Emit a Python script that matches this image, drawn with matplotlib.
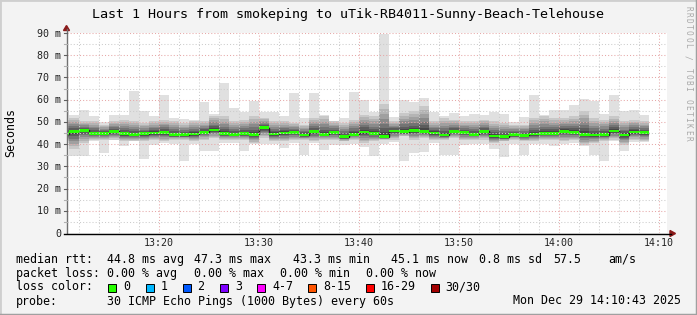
import numpy as np
import matplotlib
matplotlib.use('Agg')
import matplotlib.pyplot as plt
from matplotlib.patches import Rectangle, Polygon
from matplotlib.lines import Line2D

MONO = 'DejaVu Sans Mono'
W, H = 697, 315

# one smoke column per minute, first one starts 13:10 (cut by the left edge)
first_minute = 10          # minutes after 13:00

rtt_median = [44.6, 45.5, 46.2, 44.9, 44.9, 45.75, 44.7, 44.4, 44.6, 45.0,
              45.2, 44.25, 44.25, 44.55, 45.3, 46.35, 44.7, 44.4, 44.7, 44.4,
              47.3, 44.55, 45.0, 45.15, 44.1, 45.6, 44.4, 45.15, 43.3, 44.4,
              45.45, 44.85, 43.3, 45.9, 45.6, 46.05, 45.6, 45.0, 44.1, 45.75,
              45.15, 44.4, 45.75, 43.65, 43.35, 44.25, 43.95, 44.55, 44.85, 44.85,
              45.75, 45.15, 44.4, 44.1, 44.25, 45.9, 44.1, 45.45, 45.1]
rtt_max = [55.5, 53.3, 55.5, 52.8, 49.8, 53.3, 53.3, 64.0, 55.0, 52.8,
           62.3, 51.75, 51.45, 50.7, 59.0, 53.5, 67.5, 56.25, 54.45, 59.5,
           54.45, 54.45, 52.8, 63.0, 51.75, 63.0, 53.3, 50.25, 51.75, 63.5,
           60.0, 54.45, 89.6, 52.2, 60.0, 59.0, 60.75, 54.45, 52.8, 54.0,
           52.5, 53.7, 53.3, 54.45, 53.7, 50.0, 52.2, 62.0, 53.3, 55.5,
           55.5, 57.75, 60.45, 59.25, 53.7, 62.25, 55.0, 55.5, 53.3]
rtt_min = [40.5, 34.5, 34.5, 41.3, 35.8, 42.0, 39.0, 41.3, 33.4, 39.5,
           40.5, 40.0, 32.55, 40.0, 37.0, 36.75, 40.5, 40.5, 37.0, 40.0,
           40.0, 40.0, 38.25, 40.5, 35.25, 40.5, 37.5, 39.75, 39.75, 40.0,
           38.5, 34.5, 40.0, 41.0, 32.55, 35.85, 36.3, 40.5, 35.25, 35.25,
           39.5, 40.0, 40.0, 38.0, 34.0, 40.0, 35.25, 40.0, 40.0, 39.0,
           40.0, 40.5, 39.0, 35.0, 32.55, 41.25, 36.75, 41.0, 41.0]
# extent of the darker part of the smoke
core_hi = [51.0, 51.75, 50.25, 50.25, 48.75, 50.25, 51.0, 50.25, 49.5, 50.25,
           51.0, 50.25, 49.5, 50.25, 50.25, 52.5, 52.5, 50.25, 51.0, 52.5,
           51.75, 50.25, 50.25, 49.5, 48.75, 51.75, 52.5, 50.25, 49.5, 51.0,
           53.25, 52.5, 58.0, 50.25, 54.0, 54.75, 57.0, 50.25, 51.75, 51.0,
           50.25, 50.25, 51.0, 50.25, 49.5, 48.75, 48.75, 51.75, 52.5, 51.75,
           51.75, 52.5, 54.75, 51.75, 51.0, 52.5, 50.25, 51.0, 50.25]
core_lo = [41.25, 38.0, 40.5, 42.0, 42.0, 42.0, 41.25, 41.25, 41.25, 42.0,
           41.25, 42.0, 42.0, 41.25, 42.0, 42.75, 42.0, 42.0, 42.0, 40.5,
           42.75, 41.25, 41.25, 42.0, 42.0, 41.25, 42.0, 42.0, 41.25, 42.0,
           40.5, 41.25, 42.0, 42.0, 43.5, 42.0, 42.75, 42.0, 42.0, 42.75,
           42.0, 42.0, 42.0, 40.5, 41.25, 42.0, 41.25, 41.25, 42.0, 42.0,
           41.25, 42.0, 39.75, 40.5, 41.25, 42.0, 39.75, 42.0, 41.25]

y_ticks = [0, 10, 20, 30, 40, 50, 60, 70, 80, 90]
y_labels = ['0', '10 m', '20 m', '30 m', '40 m', '50 m', '60 m', '70 m', '80 m', '90 m']
x_ticks = [20, 30, 40, 50, 60, 70]
x_labels = ['13:20', '13:30', '13:40', '13:50', '14:00', '14:10']

legend_rtt = ['44.8 ms avg', '47.3 ms max', '43.3 ms min', '45.1 ms now', '0.8 ms sd', '57.5', 'am/s']
legend_loss = ['0.00 % avg', '0.00 % max', '0.00 % min', '0.00 % now']
loss_names = ['0', '1', '2', '3', '4-7', '8-15', '16-29', '30/30']
loss_colors = ['#26ff00', '#00b8ff', '#0059ff', '#7e00ff', '#ff00ff', '#ff5500', '#ff0000', '#a10000']


def fx(x):
    return x / W


def fy(y):
    return 1 - y / H


fig = plt.figure(figsize=(W / 100, H / 100), dpi=100, facecolor='#f3f3f3')

# outer 3d frame
fig.add_artist(Line2D([0, 0], [0, 1], lw=2, color='#cfcfcf', transform=fig.transFigure))
fig.add_artist(Line2D([0, 1], [1, 1], lw=2, color='#cfcfcf', transform=fig.transFigure))
fig.add_artist(Line2D([1, 1], [0, 1], lw=2.5, color='#a0a0a0', transform=fig.transFigure))
fig.add_artist(Line2D([0, 1], [0, 0], lw=2.5, color='#a0a0a0', transform=fig.transFigure))

ax = fig.add_axes([fx(67), fy(233), 600 / W, 200 / H])
ax.set_facecolor('white')
ax.set_xlim(10.8, 70.8)
ax.set_ylim(0, 90)
for s in ax.spines.values():
    s.set_visible(False)
ax.set_xticks([])
ax.set_yticks([])

med = np.array(rtt_median)
hi = np.array(rtt_max)
lo = np.array(rtt_min)
chi = np.array(core_hi)
clo = np.array(core_lo)
x = first_minute + np.arange(len(med))

# smoke: light outer band, then darker nested bands towards the median
ax.bar(x, hi - lo, bottom=lo, width=1, align='edge', color='#e0e0e0',
       linewidth=0, antialiased=False, zorder=1)
shades = [200, 180, 160, 138, 115, 92, 70]
fracs = [0.0, 0.15, 0.3, 0.45, 0.6, 0.74, 0.86]
for g, f in zip(shades, fracs):
    top = chi - (chi - med) * f
    bot = clo + (med - clo) * f
    c = '#%02x%02x%02x' % (g, g, g)
    ax.bar(x, top - bot, bottom=bot, width=1, align='edge', color=c,
           linewidth=0, antialiased=False, zorder=2)

# median: dark step line plus loss coloured block
edges = np.append(x, x[-1] + 1)
ax.stairs(med, edges, baseline=None, color='#202020', lw=1.0, zorder=3)
ax.bar(x, 1.25, bottom=med - 0.62, width=1, align='edge', color=loss_colors[0],
       linewidth=0, antialiased=False, zorder=4)

# grid on top of the graph
for t in range(12, 71, 2):
    major = t % 10 == 0
    ax.axvline(t, color='#e6a8a8' if major else '#cccccc', lw=0.75,
               ls=(0, (1, 2)), zorder=5)
for v in range(5, 91, 5):
    major = v % 10 == 0
    ax.axhline(v, color='#e6a8a8' if major else '#cccccc', lw=0.75,
               ls=(0, (1, 2)), zorder=5)

# axes lines and arrows
fig.add_artist(Line2D([fx(66.5), fx(66.5)], [fy(233), fy(29)], lw=1.0, color='#707070',
                      transform=fig.transFigure))
fig.add_artist(Line2D([fx(64), fx(671)], [fy(233.5), fy(233.5)], lw=1.0, color='black',
                      transform=fig.transFigure))
fig.add_artist(Polygon([[fx(63.5), fy(30.5)], [fx(69.5), fy(30.5)], [fx(66.5), fy(25.5)]],
                       closed=True, color='#8b1a1a', transform=fig.transFigure))
fig.add_artist(Polygon([[fx(670), fy(230.5)], [fx(670), fy(236.5)], [fx(675.5), fy(233.5)]],
                       closed=True, color='#8b1a1a', transform=fig.transFigure))
for v in range(5, 91, 5):
    yp = 233 - v * 200 / 90
    fig.add_artist(Line2D([fx(63.5), fx(66.5)], [fy(yp), fy(yp)], lw=0.8,
                          color='#606060' if v % 10 == 0 else '#b0b0b0',
                          transform=fig.transFigure))

# tick labels
for v, lab in zip(y_ticks, y_labels):
    yp = 233 - v * 200 / 90
    fig.text(fx(61), fy(yp + 3.6), lab, ha='right', va='baseline',
             family=MONO, fontsize=7.2, color='#222222')
for t, lab in zip(x_ticks, x_labels):
    xp = 67 + (t - 10.8) * 10
    fig.text(fx(xp), fy(245.5), lab, ha='center', va='baseline',
             family=MONO, fontsize=7.2, color='#222222')

fig.text(fx(348), fy(18), 'Last 1 Hours from smokeping to uTik-RB4011-Sunny-Beach-Telehouse',
         ha='center', va='baseline', family=MONO, fontsize=9.6, color='black')
fig.text(fx(10.5), fy(132.5), 'Seconds', rotation=90, ha='center', va='center',
         family=MONO, fontsize=8.4, color='black')

# watermark, letter by letter
for i, ch in enumerate('RRDTOOL / TOBI OETIKER'):
    fig.text(fx(688), fy(8 + i * 6.2), ch, rotation=-90, ha='center', va='center',
             family=MONO, fontsize=5.6, color='#a8a8a8')

# legend
LS = 8.4
rows = [263, 277, 290.5, 304.5]
fig.text(fx(16), fy(rows[0]), 'median rtt:', family=MONO, fontsize=LS, va='baseline')
for xp, s in zip([107, 194, 293, 391, 479, 553, 608], legend_rtt):
    fig.text(fx(xp), fy(rows[0]), s, family=MONO, fontsize=LS, va='baseline')
fig.text(fx(16), fy(rows[1]), 'packet loss:', family=MONO, fontsize=LS, va='baseline')
for xp, s in zip([107, 194, 280, 366], legend_loss):
    fig.text(fx(xp), fy(rows[1]), s, family=MONO, fontsize=LS, va='baseline')
fig.text(fx(16), fy(rows[2]), 'loss color:', family=MONO, fontsize=LS, va='baseline')
for xp, name, col in zip([108, 145.5, 182.5, 220, 257, 308, 365.5, 430.5], loss_names, loss_colors):
    fig.add_artist(Rectangle((fx(xp), fy(291.5)), 8 / W, 8 / H, facecolor=col,
                             edgecolor='black', lw=0.7, transform=fig.transFigure))
    fig.text(fx(xp + 15), fy(rows[2]), name, family=MONO, fontsize=LS, va='baseline')
fig.text(fx(16), fy(rows[3]), 'probe:', family=MONO, fontsize=LS, va='baseline')
fig.text(fx(107), fy(rows[3]), '30 ICMP Echo Pings (1000 Bytes) every 60s',
         family=MONO, fontsize=LS, va='baseline')
fig.text(fx(681), fy(rows[3]), 'Mon Dec 29 14:10:43 2025', ha='right',
         family=MONO, fontsize=LS, va='baseline')

fig.savefig('out.png', dpi=100, facecolor=fig.get_facecolor())
